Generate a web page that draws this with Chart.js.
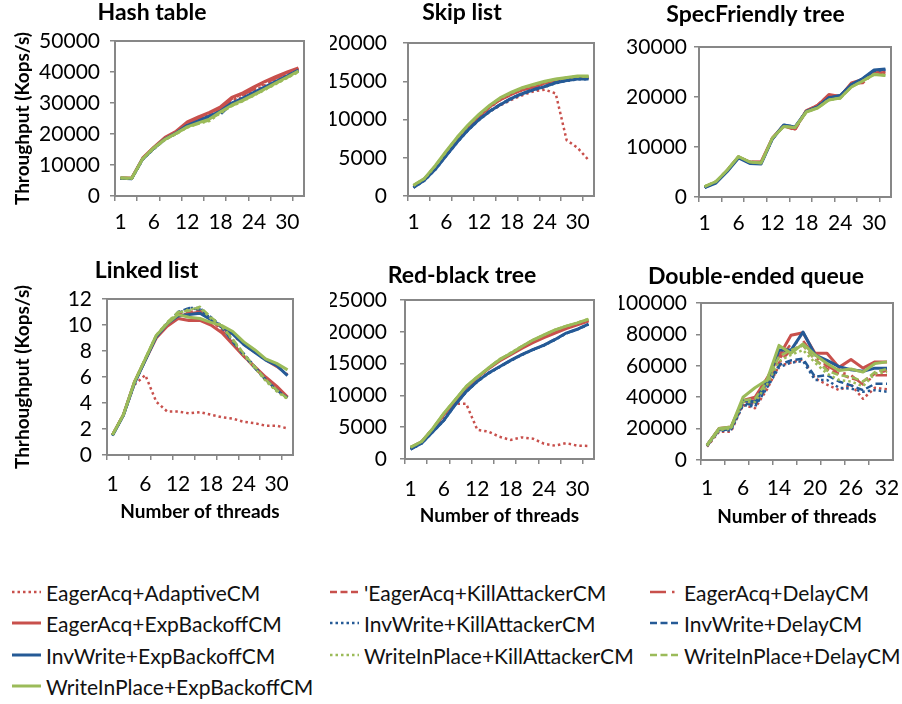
<!DOCTYPE html>
<html>
<head>
<meta charset="utf-8">
<script src="https://cdn.jsdelivr.net/npm/chart.js@4.4.0/dist/chart.umd.min.js"></script>
<style>
  html, body { margin: 0; padding: 0; background: #fff; }
  #page { position: relative; width: 902px; height: 704px; overflow: hidden; font-family: Lato, sans-serif; }
  #page canvas { position: absolute; }
  .leg { position: absolute; height: 30px; display: flex; align-items: center; font-size: 21px; color: #111; white-space: nowrap; }
  .leg svg { margin-right: 5px; }
</style>
</head>
<body>
<div id="page"></div>
<script>
// x categories (thread counts)
const threads = [1, 2, 4, 6, 8, 10, 12, 14, 16, 18, 20, 22, 24, 26, 28, 30, 32];
const dequeThreads = [1, 2, 4, 6, 8, 10, 14, 16, 18, 20, 22, 24, 26, 28, 30, 32];

const seriesNames = [
  "EagerAcq+AdaptiveCM", "'EagerAcq+KillAttackerCM", "EagerAcq+DelayCM",
  "EagerAcq+ExpBackoffCM", "InvWrite+KillAttackerCM", "InvWrite+DelayCM",
  "InvWrite+ExpBackoffCM", "WriteInPlace+KillAttackerCM", "WriteInPlace+DelayCM",
  "WriteInPlace+ExpBackoffCM"
];

// one row per series, same order as seriesNames
const hashTable = [
  [5700, 5700, 12000, 15500, 18500, 20500, 23000, 24500, 26000, 27500, 30500, 32000, 34000, 35800, 37600, 39300, 40800],
  [5800, 5800, 12200, 15700, 18700, 20700, 23500, 25200, 26800, 28300, 31300, 33000, 35000, 36800, 38300, 39800, 41100],
  [5700, 5700, 12100, 15600, 18600, 20600, 23300, 24900, 26500, 28000, 31000, 32600, 34500, 36300, 38000, 39600, 41000],
  [5800, 5800, 12300, 15800, 18900, 20900, 23900, 25500, 27000, 28800, 31800, 33300, 35200, 37000, 38600, 40000, 41300],
  [5600, 5500, 11800, 15200, 18200, 20100, 22600, 24100, 25500, 27000, 29600, 31200, 33000, 34800, 36600, 38400, 40300],
  [5700, 5600, 11900, 15300, 18300, 20200, 22700, 24000, 26000, 26300, 29800, 31400, 33200, 35000, 36800, 38600, 40400],
  [5700, 5600, 12000, 15400, 18400, 20300, 22800, 24200, 25800, 27400, 30000, 31600, 33400, 35200, 37000, 38800, 40600],
  [5800, 5600, 11900, 15300, 18100, 20000, 22100, 23400, 24200, 26800, 29000, 30600, 32400, 34300, 36200, 38100, 40000],
  [5800, 5600, 12000, 15400, 18200, 20100, 22200, 23300, 24400, 27000, 29100, 30700, 32500, 34400, 36300, 38200, 40100],
  [5900, 5700, 12100, 15600, 18300, 20200, 22300, 23600, 24800, 27200, 29300, 30900, 32700, 34600, 36500, 38400, 40300]
];

const skipList = [
  [1200, 2100, 3600, 5400, 7200, 8700, 10000, 11100, 11900, 12600, 13200, 13700, 13900, 13400, 7300, 6300, 4700],
  [1300, 2200, 3800, 5700, 7450, 9050, 10450, 11650, 12650, 13300, 13850, 14250, 14750, 15050, 15300, 15450, 15450],
  [1300, 2200, 3800, 5650, 7450, 9050, 10400, 11600, 12600, 13300, 13800, 14200, 14700, 15000, 15250, 15400, 15450],
  [1300, 2200, 3800, 5700, 7500, 9100, 10500, 11700, 12700, 13400, 13900, 14300, 14800, 15100, 15300, 15500, 15500],
  [1100, 2000, 3450, 5250, 7000, 8600, 9950, 11050, 11950, 12700, 13350, 13850, 14250, 14750, 15050, 15250, 15250],
  [1150, 2100, 3550, 5350, 7100, 8700, 10050, 11150, 12050, 12850, 13450, 13950, 14350, 14850, 15150, 15350, 15350],
  [1100, 2050, 3500, 5300, 7050, 8650, 10000, 11100, 12000, 12800, 13400, 13900, 14300, 14800, 15100, 15300, 15300],
  [1350, 2250, 3900, 5800, 7600, 9200, 10600, 11800, 12800, 13500, 14100, 14500, 14900, 15200, 15450, 15600, 15650],
  [1400, 2300, 3950, 5850, 7650, 9250, 10650, 11850, 12850, 13550, 14150, 14550, 14950, 15250, 15450, 15650, 15600],
  [1400, 2300, 4000, 5900, 7700, 9300, 10700, 11900, 12900, 13600, 14200, 14600, 15000, 15300, 15500, 15700, 15700]
];

const specFriendlyTree = [
  [2000, 3000, 5300, 8000, 7000, 6900, 11700, 14300, 13700, 17300, 18200, 20300, 20100, 22600, 23400, 24900, 25000],
  [2000, 3000, 5300, 8000, 7000, 6900, 11800, 14200, 13400, 17200, 18400, 20400, 20200, 22700, 22800, 24800, 24900],
  [2000, 3000, 5400, 8100, 7000, 7000, 11700, 14200, 13600, 17300, 18300, 20300, 20000, 22600, 23300, 24700, 24900],
  [2000, 3000, 5300, 8000, 7000, 7000, 11800, 14300, 13600, 17300, 18300, 20500, 20100, 22800, 23500, 24900, 24800],
  [1900, 2900, 5200, 7900, 6800, 6700, 11600, 14400, 14000, 17100, 18100, 19900, 20200, 22500, 23600, 25200, 25400],
  [1900, 2900, 5200, 7900, 6800, 6700, 11600, 14400, 14000, 17100, 18000, 19900, 20300, 22500, 23700, 25300, 25500],
  [1900, 2800, 5100, 7800, 6700, 6600, 11600, 14400, 14000, 17100, 18000, 19800, 20300, 22500, 23700, 25400, 25600],
  [2100, 3100, 5400, 8100, 7000, 6800, 11800, 14100, 13900, 17000, 17800, 19500, 19800, 22000, 23200, 24500, 24400],
  [2100, 3100, 5400, 8100, 7000, 6800, 11800, 14100, 13900, 17000, 17800, 19400, 19700, 22000, 23200, 24600, 24300],
  [2100, 3100, 5400, 8100, 7000, 6800, 11800, 14100, 13900, 17000, 17800, 19400, 19800, 22000, 23200, 24500, 24300]
];

const linkedList = [
  [1.55, 3.1, 5.4, 6.15, 4.1, 3.35, 3.35, 3.2, 3.3, 3.1, 2.9, 2.8, 2.55, 2.45, 2.25, 2.25, 2.05],
  [1.55, 3.1, 5.6, 7.4, 9.1, 10.1, 10.8, 11.0, 11.1, 10.4, 9.6, 8.6, 7.6, 6.7, 5.8, 5.0, 4.4],
  [1.55, 3.1, 5.6, 7.4, 9.1, 10.1, 10.7, 10.9, 11.0, 10.4, 9.8, 9.2, 8.5, 7.9, 7.3, 6.8, 6.2],
  [1.55, 3.1, 5.6, 7.3, 9.0, 9.9, 10.5, 10.35, 10.35, 10.0, 9.4, 8.5, 7.6, 6.8, 6.0, 5.3, 4.45],
  [1.5, 3.05, 5.5, 7.3, 9.1, 10.1, 10.9, 11.3, 11.3, 10.6, 9.9, 8.8, 7.8, 6.8, 5.8, 5.0, 4.35],
  [1.5, 3.05, 5.5, 7.3, 9.1, 10.1, 11.0, 11.3, 11.2, 10.5, 9.8, 8.7, 7.7, 6.7, 5.8, 5.0, 4.4],
  [1.5, 3.05, 5.5, 7.3, 9.1, 10.1, 10.7, 10.8, 10.9, 10.4, 9.9, 9.3, 8.5, 7.9, 7.3, 6.9, 6.1],
  [1.55, 3.1, 5.6, 7.4, 9.2, 10.2, 10.9, 11.2, 11.3, 10.5, 9.9, 8.8, 7.7, 6.7, 5.7, 4.9, 4.3],
  [1.55, 3.1, 5.6, 7.4, 9.2, 10.2, 11.0, 11.1, 11.4, 10.6, 9.9, 8.9, 7.8, 6.8, 5.8, 5.0, 4.35],
  [1.55, 3.1, 5.6, 7.4, 9.2, 10.1, 10.8, 10.6, 10.5, 10.2, 9.95, 9.5, 8.7, 8.1, 7.4, 7.05, 6.55]
];

const redBlackTree = [
  [1700, 2700, 4600, 6800, 8700, 8700, 4600, 4300, 3500, 3000, 3400, 3200, 2400, 2100, 2500, 2100, 2050],
  [1800, 2700, 4700, 7000, 9100, 11200, 12800, 14200, 15500, 16500, 17500, 18400, 19200, 19900, 20600, 21200, 21800],
  [1800, 2700, 4700, 7000, 9100, 11200, 12800, 14200, 15500, 16500, 17500, 18400, 19200, 19900, 20600, 21200, 21800],
  [1800, 2700, 4700, 7000, 9100, 11200, 12800, 14200, 15400, 16400, 17400, 18300, 19100, 19800, 20500, 21100, 21700],
  [1500, 2450, 4250, 6050, 8450, 10550, 12150, 13450, 14450, 15450, 16350, 17150, 17850, 18750, 19750, 20350, 21150],
  [1550, 2500, 4300, 6100, 8500, 10600, 12200, 13500, 14500, 15500, 16400, 17200, 17900, 18800, 19800, 20400, 21200],
  [1550, 2500, 4300, 6100, 8500, 10600, 12200, 13500, 14500, 15500, 16400, 17200, 17900, 18800, 19800, 20400, 21200],
  [1850, 2750, 4800, 7200, 9300, 11400, 12900, 14300, 15600, 16700, 17700, 18700, 19500, 20300, 20900, 21400, 22000],
  [1850, 2750, 4800, 7200, 9300, 11400, 12900, 14300, 15700, 16600, 17700, 18700, 19500, 20300, 20900, 21400, 22000],
  [1850, 2750, 4800, 7200, 9300, 11400, 12900, 14300, 15600, 16600, 17700, 18700, 19500, 20300, 20900, 21400, 22000]
];

const doubleEndedQueue = [
  [8500, 18000, 18000, 35000, 33000, 45000, 60000, 62000, 64000, 52000, 48000, 44500, 48000, 39000, 46000, 45000],
  [9000, 19000, 20000, 36000, 36000, 48000, 62000, 70000, 73000, 64000, 58000, 55000, 52000, 50000, 55000, 57000],
  [9500, 19500, 20500, 37000, 38000, 50000, 64000, 74000, 76000, 66000, 60000, 56000, 54000, 48000, 54000, 54000],
  [9500, 20000, 21000, 38000, 40000, 52000, 66000, 79500, 81000, 68000, 68000, 59000, 64000, 58500, 62500, 62500],
  [9000, 18500, 19000, 35000, 34000, 46000, 59000, 62000, 63000, 51000, 51000, 46000, 45500, 43500, 44500, 43500],
  [9000, 19000, 19500, 36000, 35000, 47000, 60500, 63500, 64500, 53000, 54000, 50000, 47500, 44500, 48500, 48500],
  [9500, 19500, 20500, 38000, 37000, 50000, 70000, 70000, 81500, 67000, 63500, 59500, 57500, 56500, 58500, 58500],
  [9000, 19000, 20000, 37000, 37000, 48000, 63000, 67000, 70000, 62000, 55000, 51000, 50000, 47000, 55000, 56000],
  [9500, 19500, 20500, 38000, 39000, 50000, 66000, 70000, 73000, 64000, 57000, 54000, 53000, 50000, 56000, 58000],
  [9500, 20000, 21000, 40000, 46000, 51000, 73000, 68000, 74000, 67000, 61500, 57000, 58000, 56000, 61500, 62500]
];

// line styles per series
const red = "#C8504C", blue = "#255A96", green = "#9BBB59";
const seriesColors = [red, red, red, red, blue, blue, blue, green, green, green];
const DOT = [2.5, 3], DASH = [7, 3.5], DASHDOT = [16, 6, 2.5, 6];
const seriesDash = [DOT, DASH, DASHDOT, [], DOT, DASH, [], DOT, DASH, []];
const seriesWidth = [2.5, 2.5, 2.5, 3, 2.5, 2.5, 3, 2.5, 2.5, 3];

const FONT = "Lato, sans-serif";
Chart.defaults.color = "#000";
Chart.defaults.font.family = FONT;

const plotBorder = {
  id: "plotBorder",
  beforeDatasetsDraw(chart) {
    const { ctx, chartArea: a } = chart;
    ctx.save();
    ctx.strokeStyle = "#878787";
    ctx.lineWidth = 2;
    ctx.strokeRect(a.left, a.top, a.right - a.left, a.bottom - a.top);
    ctx.restore();
  },
};

const panels = [
  { title: "Hash table", data: hashTable, cats: threads, max: 50000, step: 10000,
    yTitle: "Throughput (Kops/s)", xTitle: "",
    left: 0, top: 0, yw: 115, pw: 189, ph: 155, padR: 96, tTop: 1, tBot: 17, xh: 45, yPad: 10, xPad: 9 },
  { title: "Skip list", data: skipList, cats: threads, max: 20000, step: 5000,
    yTitle: "", xTitle: "",
    left: 330, top: 0, yw: 78, pw: 186, ph: 153, padR: 36, tTop: 1, tBot: 19, xh: 45, yPad: 16, xPad: 9 },
  { title: "SpecFriendly tree", data: specFriendlyTree, cats: threads, max: 30000, step: 10000,
    yTitle: "", xTitle: "",
    left: 620, top: 0, yw: 79, pw: 192, ph: 150, padR: 59, tTop: 3, tBot: 21, xh: 45, yPad: 7, xPad: 9 },
  { title: "Linked list", data: linkedList, cats: threads, max: 12, step: 2,
    yTitle: "Thrhoughput (Kops/s)", xTitle: "Number of threads",
    left: 0, top: 255, yw: 107, pw: 186, ph: 156, padR: 83, tTop: 4, tBot: 17, xh: 70, yPad: 10, xPad: 12 },
  { title: "Red-black tree", data: redBlackTree, cats: threads, max: 25000, step: 5000,
    yTitle: "", xTitle: "Number of threads",
    left: 330, top: 255, yw: 75, pw: 189, ph: 159, padR: 60, tTop: 9, tBot: 13, xh: 70, yPad: 13, xPad: 13 },
  { title: "Double-ended queue", data: doubleEndedQueue, cats: dequeThreads, max: 100000, step: 20000,
    yTitle: "", xTitle: "Number of threads",
    left: 619, top: 255, yw: 82, pw: 192, ph: 157, padR: 44, tTop: 10, tBot: 15, xh: 70, yPad: 9, xPad: 11 },
];

const page = document.getElementById("page");

panels.forEach((p) => {
  const canvas = document.createElement("canvas");
  const w = p.yw + p.pw + p.padR;
  const h = p.tTop + 23 + p.tBot + p.ph + p.xh;
  canvas.width = w;
  canvas.height = h;
  canvas.style.left = p.left + "px";
  canvas.style.top = p.top + "px";
  page.appendChild(canvas);

  const datasets = p.data.map((vals, k) => ({
    label: seriesNames[k],
    data: vals,
    borderColor: seriesColors[k],
    backgroundColor: seriesColors[k],
    borderWidth: seriesWidth[k],
    borderDash: seriesDash[k],
    borderCapStyle: "butt",
    borderJoinStyle: "round",
    pointRadius: 0,
    tension: 0,
    fill: false,
    order: 10 - k,
  }));

  new Chart(canvas, {
    type: "line",
    data: { labels: p.cats.map(String), datasets },
    options: {
      responsive: false,
      animation: false,
      devicePixelRatio: 1,
      events: [],
      layout: { padding: { left: 0, right: p.padR, top: 0, bottom: 0 } },
      plugins: {
        legend: { display: false },
        tooltip: { enabled: false },
        title: {
          display: true,
          text: p.title,
          color: "#000",
          font: { family: FONT, size: 23, weight: "bold", lineHeight: 1 },
          padding: { top: p.tTop, bottom: p.tBot },
        },
      },
      scales: {
        x: {
          type: "category",
          offset: true,
          afterFit: (s) => { s.height = p.xh; },
          border: { display: false },
          grid: {
            display: true,
            offset: true,
            drawOnChartArea: false,
            drawTicks: true,
            tickLength: 5,
            lineWidth: 1.5,
            color: (c) => (c.index % 2 === 0 ? "#878787" : "rgba(0,0,0,0)"),
          },
          ticks: {
            autoSkip: false,
            maxRotation: 0,
            minRotation: 0,
            padding: p.xPad,
            font: { family: FONT, size: 21 },
            color: "#000",
            callback: (v, i) => (i % 3 === 0 ? p.cats[i] : ""),
          },
          title: {
            display: p.xTitle !== "",
            text: p.xTitle,
            color: "#000",
            font: { family: FONT, size: 19, weight: "bold", lineHeight: 1.2 },
            padding: { top: 0, bottom: 2 },
          },
        },
        y: {
          min: 0,
          max: p.max,
          afterFit: (s) => { s.width = p.yw; },
          border: { display: false },
          grid: {
            display: true,
            drawOnChartArea: false,
            drawTicks: true,
            tickLength: 5,
            lineWidth: 1.5,
            color: "#878787",
          },
          ticks: {
            stepSize: p.step,
            autoSkip: false,
            padding: p.yPad,
            font: { family: FONT, size: 21 },
            color: "#000",
            callback: (v) => String(v),
          },
          title: {
            display: p.yTitle !== "",
            text: p.yTitle,
            color: "#000",
            font: { family: FONT, size: 19, weight: "bold", lineHeight: 1.2 },
            padding: { top: 11, bottom: 0 },
          },
        },
      },
    },
    plugins: [plotBorder],
  });
});

// legend, three columns
const legLineX = [12, 330, 650];
const legRowY = [592, 623, 655, 686];
seriesNames.forEach((name, k) => {
  const col = k % 3, row = Math.floor(k / 3);
  const div = document.createElement("div");
  div.className = "leg";
  div.style.left = legLineX[col] + "px";
  div.style.top = (legRowY[row] - 15) + "px";
  const dash = seriesDash[k].length ? seriesDash[k].join(" ") : "none";
  div.innerHTML =
    `<svg width="29" height="8"><line x1="0" y1="4" x2="29" y2="4" stroke="${seriesColors[k]}" ` +
    `stroke-width="${seriesWidth[k]}" stroke-dasharray="${dash}"/></svg><span>${name}</span>`;
  page.appendChild(div);
});
</script>
</body>
</html>
